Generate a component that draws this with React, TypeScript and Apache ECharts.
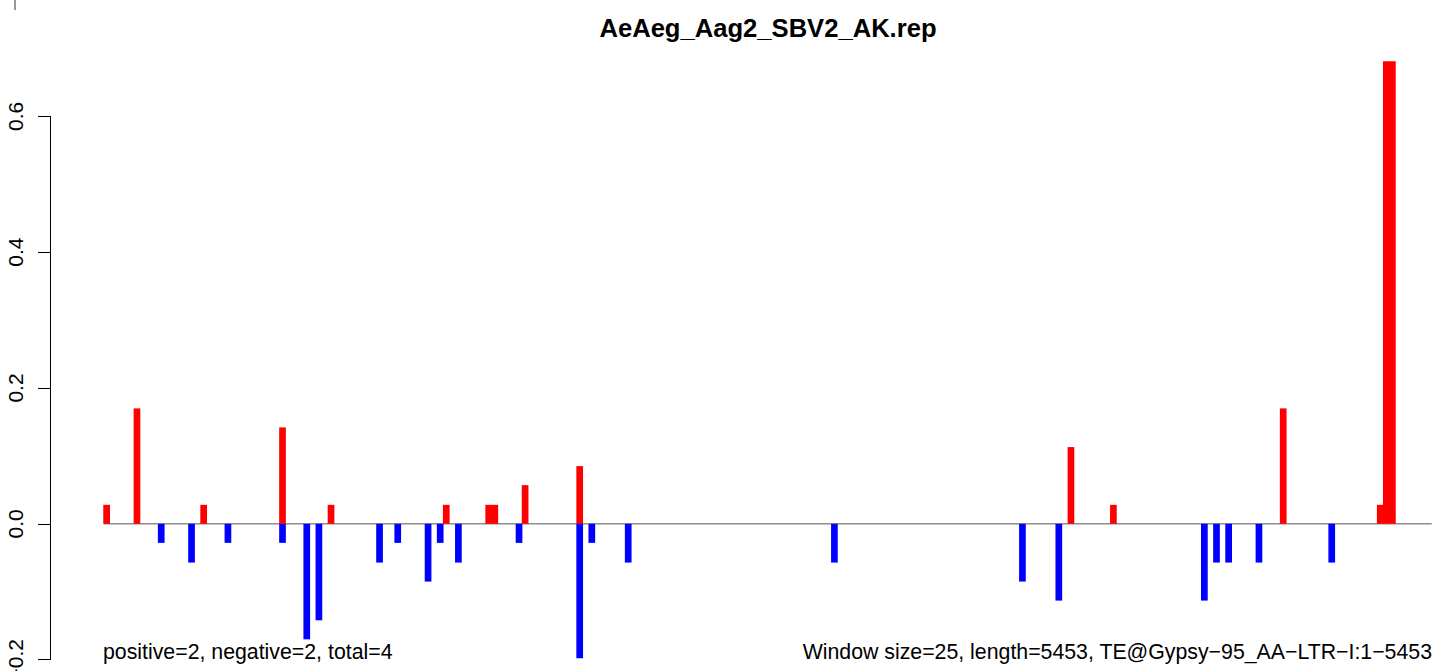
import React, { useEffect, useRef } from "react";
import * as echarts from "echarts";

// ---- data ----
const titleText = "AeAeg_Aag2_SBV2_AK.rep";
const leftNote = "positive=2, negative=2, total=4";
const rightNote = "Window size=25, length=5453, TE@Gypsy\u221295_AA\u2212LTR\u2212I:1\u22125453";

// window index of each bar (window size 25, 219 windows)
const positiveIdx = [0, 5, 16, 29, 37, 56, 63, 64, 69, 78, 159, 166, 194, 210, 211, 212];
const positiveVal = [0.028, 0.17, 0.028, 0.142, 0.028, 0.028, 0.028, 0.028, 0.057, 0.085, 0.113, 0.028, 0.17, 0.028, 0.681, 0.681];

const negativeIdx = [9, 14, 20, 29, 33, 35, 45, 48, 53, 55, 58, 68, 78, 80, 86, 120, 151, 157, 181, 183, 185, 190, 202];
const negativeVal = [-0.028, -0.057, -0.028, -0.028, -0.17, -0.142, -0.057, -0.028, -0.085, -0.028, -0.057, -0.028, -0.198, -0.028, -0.057, -0.057, -0.085, -0.113, -0.113, -0.057, -0.057, -0.057, -0.057];

const windowRange = [-0.5, 218.5];
const yTicks = [-0.2, 0.6, 0.2]; // min, max, interval

const FONT = '"Liberation Sans", Arial, Helvetica, sans-serif';

export default function App() {
  const ref = useRef<HTMLDivElement>(null);

  useEffect(() => {
    if (!ref.current) return;
    const chart = echarts.init(ref.current, null, { renderer: "svg" });

    const pos = positiveIdx.map((x, i) => [x, positiveVal[i]]);
    const neg = negativeIdx.map((x, i) => [x, negativeVal[i]]);
    const zero = windowRange.map((x) => [x, 0]);

    chart.setOption({
      animation: false,
      backgroundColor: "#ffffff",
      grid: {
        left: 103.6,
        right: 12.2,
        top: 116.3,
        bottom: 11.3,
        containLabel: false,
        outerBoundsMode: "none",
      },
      xAxis: {
        type: "value",
        min: windowRange[0],
        max: windowRange[1],
        show: false,
      },
      yAxis: {
        type: "value",
        min: yTicks[0],
        max: yTicks[1],
        interval: yTicks[2],
        offset: 53.6,
        axisLine: { show: true, onZero: false, lineStyle: { color: "#000", width: 1 } },
        axisTick: { show: true, length: 12, lineStyle: { color: "#000", width: 1 } },
        splitLine: { show: false },
        axisLabel: {
          rotate: 90,
          margin: 24,
          fontSize: 21,
          fontFamily: FONT,
          color: "#000",
          formatter: (v: number) => (v < -1e-9 ? "\u2212" : "") + Math.abs(v).toFixed(1),
        },
      },
      series: [
        {
          type: "line",
          data: zero,
          symbol: "none",
          silent: true,
          z: 1,
          lineStyle: { color: "#555555", width: 1 },
        },
        {
          type: "bar",
          data: pos,
          barWidth: 6.7,
          barGap: "-100%",
          clip: false,
          z: 2,
          itemStyle: { color: "#ff0000" },
        },
        {
          type: "bar",
          data: neg,
          barWidth: 6.7,
          barGap: "-100%",
          clip: false,
          z: 2,
          itemStyle: { color: "#0000ff" },
        },
      ],
      graphic: [
        {
          type: "text",
          x: 768,
          y: 28,
          style: {
            text: titleText,
            fontFamily: FONT,
            fontSize: 25.6,
            fontWeight: "bold",
            fill: "#000",
            textAlign: "center",
            textVerticalAlign: "middle",
          },
        },
        {
          type: "text",
          x: 103,
          y: 652,
          style: {
            text: leftNote,
            fontFamily: FONT,
            fontSize: 21.3,
            fill: "#000",
            textAlign: "left",
            textVerticalAlign: "middle",
          },
        },
        {
          type: "text",
          x: 1432,
          y: 652,
          style: {
            text: rightNote,
            fontFamily: FONT,
            fontSize: 21.3,
            fill: "#000",
            textAlign: "right",
            textVerticalAlign: "middle",
          },
        },
        {
          type: "line",
          shape: { x1: 15, y1: 0, x2: 15, y2: 10 },
          style: { stroke: "#333", lineWidth: 1 },
        },
      ],
    });

    return () => chart.dispose();
  }, []);

  return (
    <div
      ref={ref}
      style={{ position: "absolute", left: 0, top: 0, width: 1444, height: 671, background: "#fff" }}
    />
  );
}
